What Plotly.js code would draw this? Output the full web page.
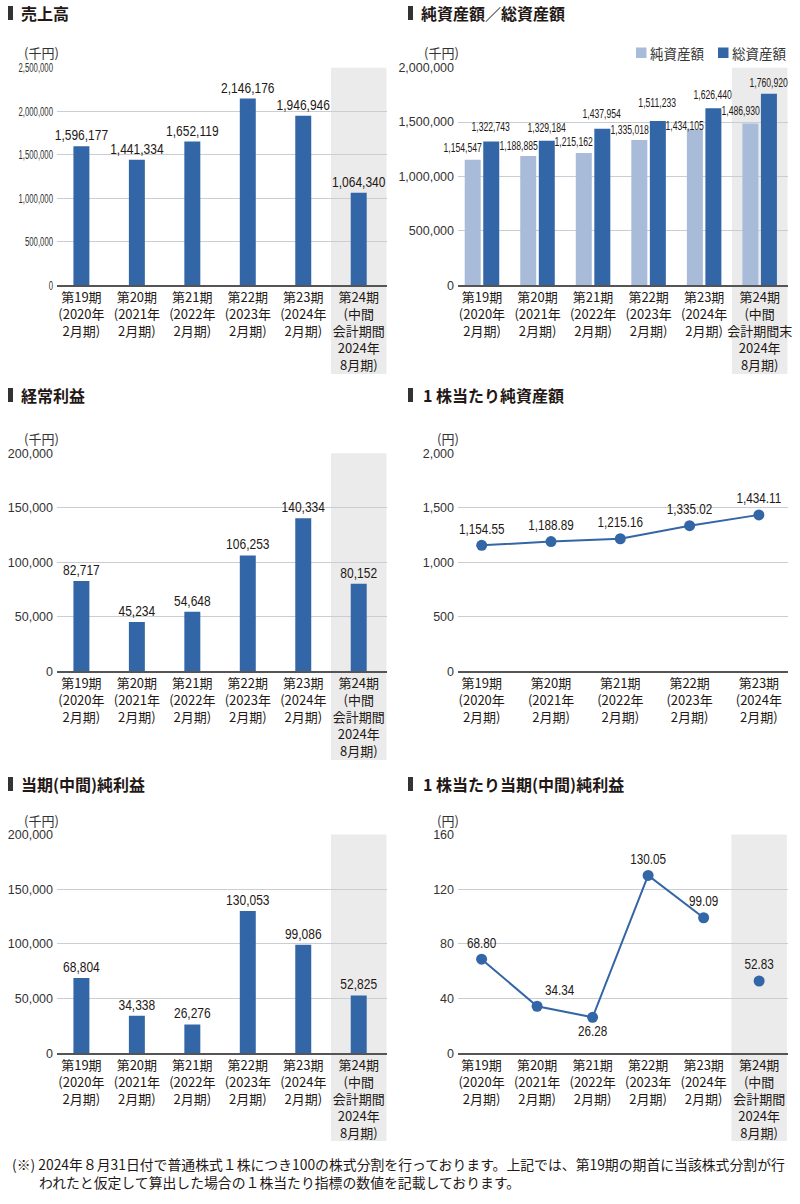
<!DOCTYPE html>
<html>
<head>
<meta charset="utf-8">
<script src="https://cdn.plot.ly/plotly-3.0.1.min.js"></script>
<style>
  html, body { margin: 0; padding: 0; background: #fff; }
  #chart { width: 800px; height: 1204px; }
</style>
</head>
<body>
<div id="chart"></div>
<script>
// ---- data ----
var periods = ['第19期<br>(2020年<br>2月期)', '第20期<br>(2021年<br>2月期)', '第21期<br>(2022年<br>2月期)',
               '第22期<br>(2023年<br>2月期)', '第23期<br>(2024年<br>2月期)', '第24期<br>(中間<br>会計期間<br>2024年<br>8月期)'];
var periodsAssets = ['第19期<br>(2020年<br>2月期)', '第20期<br>(2021年<br>2月期)', '第21期<br>(2022年<br>2月期)',
               '第22期<br>(2023年<br>2月期)', '第23期<br>(2024年<br>2月期)', '第24期<br>(中間<br>会計期間末<br>2024年<br>8月期)'];
var periodsBps = ['第19期<br>(2020年<br>2月期)', '第20期<br>(2021年<br>2月期)', '第21期<br>(2022年<br>2月期)',
               '第22期<br>(2023年<br>2月期)', '第23期<br>(2024年<br>2月期)'];

var sales = [1596177, 1441334, 1652119, 2146176, 1946946, 1064340];
var netAssets = [1154547, 1188885, 1215162, 1335018, 1434105, 1486930];
var totalAssets = [1322743, 1329184, 1437954, 1511233, 1626440, 1760920];
var ordinaryIncome = [82717, 45234, 54648, 106253, 140334, 80152];
var bps = [1154.55, 1188.89, 1215.16, 1335.02, 1434.11];
var netIncome = [68804, 34338, 26276, 130053, 99086, 52825];
var eps = [68.80, 34.34, 26.28, 130.05, 99.09, 52.83];

var titles = ['売上高', '純資産額／総資産額', '経常利益', '1 株当たり純資産額', '当期(中間)純利益', '1 株当たり当期(中間)純利益'];
var units = ['(千円)', '(千円)', '(千円)', '(円)', '(千円)', '(円)'];
var legendNames = ['純資産額', '総資産額'];
var note1 = '(※) 2024年８月31日付で普通株式１株につき100の株式分割を行っております。上記では、第19期の期首に当該株式分割が行';
var note2 = 'われたと仮定して算出した場合の１株当たり指標の数値を記載しております。';

// label placement tweaks (px above the bar top / text position)
var netLabelLift = [3, 1, 2.5, 1, -5.5, 3.5];
var totalLabelLift = [5, 4, 5.5, 9, 4, 2];
var epsTextPos = ['top center', 'top right', 'bottom center', 'top center', 'top center'];

// ---- style ----
var W = 800, H = 1204;
function fx(p) { return p / W; }
function fy(p) { return 1 - p / H; }
var dark = '#3366a6';
var light = '#a8bbd9';
var shade = '#ebebeb';
var gridc = '#c9ced3';
var txt = '#231815';
var numFont = 'Liberation Sans, Arial, sans-serif';
var jpFont = 'Noto Sans CJK JP, sans-serif';

function xAx(d0, d1, r, anchor) {
  return {domain: [fx(d0), fx(d1)], range: r, type: 'category', anchor: anchor,
    showline: true, linecolor: '#555', linewidth: 1.5, showgrid: false, ticks: '', tickangle: 0,
    tickfont: {family: jpFont, size: 13, color: txt}, fixedrange: true};
}
function yAx(top, bot, max, dt, anchor) {
  return {domain: [fy(bot), fy(top)], range: [0, max], dtick: dt, tick0: 0, anchor: anchor,
    tickformat: ',d', showgrid: true, gridcolor: gridc, gridwidth: 1, zeroline: false,
    showline: false, ticks: '', ticklabelstandoff: 3,
    tickfont: {family: numFont, size: 12.5, color: '#333'}, fixedrange: true};
}

var data = [];
function barTrace(x, y, xa, ya) {
  return {type: 'bar', x: x, y: y, xaxis: xa, yaxis: ya, width: 0.288,
    marker: {color: dark}, texttemplate: '%{y:,d}', textposition: 'outside',
    constraintext: 'none', cliponaxis: false,
    textfont: {family: numFont, size: 15, color: txt}, hoverinfo: 'skip', showlegend: false};
}

// 売上高
data.push(barTrace(periods, sales, 'x', 'y'));
// 純資産額／総資産額
data.push({type: 'bar', name: legendNames[0], x: periodsAssets, y: netAssets, xaxis: 'x2', yaxis: 'y2',
  width: 0.288, offset: -0.311, marker: {color: light}, hoverinfo: 'skip', showlegend: false});
data.push({type: 'bar', name: legendNames[1], x: periodsAssets, y: totalAssets, xaxis: 'x2', yaxis: 'y2',
  width: 0.288, offset: 0.0225, marker: {color: dark}, hoverinfo: 'skip', showlegend: false});
// 経常利益
data.push(barTrace(periods, ordinaryIncome, 'x3', 'y3'));
// 1株当たり純資産額
data.push({type: 'scatter', mode: 'lines+markers+text', x: periodsBps, y: bps, xaxis: 'x4', yaxis: 'y4',
  line: {color: dark, width: 2}, marker: {color: dark, size: 11},
  texttemplate: '%{y:,.2f}', textposition: 'top center', cliponaxis: false,
  textfont: {family: numFont, size: 15, color: txt}, hoverinfo: 'skip', showlegend: false});
// 当期純利益
data.push(barTrace(periods, netIncome, 'x5', 'y5'));
// 1株当たり当期純利益
data.push({type: 'scatter', mode: 'lines+markers+text', x: periods.slice(0, 5), y: eps.slice(0, 5),
  xaxis: 'x6', yaxis: 'y6', line: {color: dark, width: 2}, marker: {color: dark, size: 11},
  texttemplate: '%{y:.2f}', textposition: epsTextPos, cliponaxis: false,
  textfont: {family: numFont, size: 15, color: txt}, hoverinfo: 'skip', showlegend: false});
data.push({type: 'scatter', mode: 'markers+text', x: periods.slice(5), y: eps.slice(5),
  xaxis: 'x6', yaxis: 'y6', marker: {color: dark, size: 11},
  texttemplate: '%{y:.2f}', textposition: 'top center', cliponaxis: false,
  textfont: {family: numFont, size: 15, color: txt}, hoverinfo: 'skip', showlegend: false});

// ---- annotations / shapes ----
var annotations = [];
var shapes = [];

var panels = [
  {tx: 19, ty: 13, ux: 22, uy: 53, bx: 8, xref: 'x', top: 67.7, bot: 374, shade: true},
  {tx: 419, ty: 13, ux: 422, uy: 53, bx: 408, xref: 'x2', top: 67.7, bot: 374, shade: true},
  {tx: 19, ty: 395, ux: 22, uy: 439, bx: 8, xref: 'x3', top: 453.2, bot: 760, shade: true},
  {tx: 421, ty: 395, ux: 435, uy: 438, bx: 408, xref: 'x4', top: 453.2, bot: 760, shade: false},
  {tx: 19, ty: 784, ux: 22, uy: 820, bx: 8, xref: 'x5', top: 834.5, bot: 1141, shade: true},
  {tx: 421, ty: 784, ux: 435, uy: 820, bx: 408, xref: 'x6', top: 834.5, bot: 1141, shade: true}
];
panels.forEach(function (p, i) {
  annotations.push({xref: 'paper', yref: 'paper', x: fx(p.tx), y: fy(p.ty), xanchor: 'left', yanchor: 'middle',
    showarrow: false, text: titles[i], font: {family: jpFont, size: 16, weight: 700, color: txt}});
  annotations.push({xref: 'paper', yref: 'paper', x: fx(p.ux), y: fy(p.uy), xanchor: 'left', yanchor: 'middle',
    showarrow: false, text: units[i], font: {family: jpFont, size: 13, color: '#333'}});
  shapes.push({type: 'rect', xref: 'paper', yref: 'paper', x0: fx(p.bx), x1: fx(p.bx + 5),
    y0: fy(p.ty + 7), y1: fy(p.ty - 7), fillcolor: '#333', line: {width: 0}});
  if (p.shade) {
    shapes.push({type: 'rect', layer: 'below', xref: p.xref, yref: 'paper', x0: 4.5, x1: 5.5,
      y0: fy(p.bot), y1: fy(p.top), fillcolor: shade, line: {width: 0}});
  }
});

// labels for grouped bars (remember their index to narrow them later)
var assetLabelIdx = [];
netAssets.forEach(function (v, i) {
  assetLabelIdx.push(annotations.length);
  annotations.push({xref: 'x2', yref: 'y2', x: i, y: v, xshift: -19, yshift: netLabelLift[i], yanchor: 'bottom',
    showarrow: false, text: v.toLocaleString('en-US'), font: {family: numFont, size: 12, color: txt}});
});
totalAssets.forEach(function (v, i) {
  assetLabelIdx.push(annotations.length);
  annotations.push({xref: 'x2', yref: 'y2', x: i, y: v, xshift: 9.25, yshift: totalLabelLift[i], yanchor: 'bottom',
    showarrow: false, text: v.toLocaleString('en-US'), font: {family: numFont, size: 12, color: txt}});
});

// legend of panel 2
[[636, light], [718, dark]].forEach(function (l, i) {
  shapes.push({type: 'rect', xref: 'paper', yref: 'paper', x0: fx(l[0]), x1: fx(l[0] + 10.5),
    y0: fy(58), y1: fy(47.5), fillcolor: l[1], line: {width: 0}});
  annotations.push({xref: 'paper', yref: 'paper', x: fx(l[0] + 12), y: fy(53), xanchor: 'left', yanchor: 'middle',
    showarrow: false, text: legendNames[i], font: {family: jpFont, size: 13.5, color: '#333'}});
});

// footnote
annotations.push({xref: 'paper', yref: 'paper', x: fx(10), y: fy(1164), xanchor: 'left', yanchor: 'middle',
  showarrow: false, text: note1, font: {family: jpFont, size: 13.85, color: txt}});
annotations.push({xref: 'paper', yref: 'paper', x: fx(37), y: fy(1182), xanchor: 'left', yanchor: 'middle',
  showarrow: false, text: note2, font: {family: jpFont, size: 13.85, color: txt}});

var layout = {
  width: W, height: H,
  margin: {l: 0, r: 0, t: 0, b: 0},
  paper_bgcolor: '#fff', plot_bgcolor: 'rgba(0,0,0,0)',
  showlegend: false,
  xaxis: xAx(57, 387, [-0.44, 5.51], 'y'),
  yaxis: yAx(67.7, 285.3, 2500000, 500000, 'x'),
  xaxis2: xAx(458, 788, [-0.432, 5.51], 'y2'),
  yaxis2: yAx(67.7, 285.3, 2000000, 500000, 'x2'),
  xaxis3: xAx(57, 387, [-0.44, 5.51], 'y3'),
  yaxis3: yAx(453.2, 671.2, 200000, 50000, 'x3'),
  xaxis4: xAx(458, 788, [-0.342, 4.42], 'y4'),
  yaxis4: yAx(453.2, 671.2, 2000, 500, 'x4'),
  xaxis5: xAx(57, 387, [-0.44, 5.51], 'y5'),
  yaxis5: yAx(834.5, 1053.2, 200000, 50000, 'x5'),
  xaxis6: xAx(458, 788, [-0.425, 5.52], 'y6'),
  yaxis6: yAx(834.5, 1053.2, 160, 40, 'x6'),
  annotations: annotations,
  shapes: shapes
};

// the printed chart uses a condensed face for its numbers: squeeze them horizontally
function squeeze(nodes, f) {
  nodes.forEach(function (t) {
    var w = t.getComputedTextLength();
    t.setAttribute('textLength', (w * f).toFixed(1));
    t.setAttribute('lengthAdjust', 'spacingAndGlyphs');
  });
}

Plotly.newPlot('chart', data, layout, {staticPlot: true, displayModeBar: false}).then(function (gd) {
  var all = function (sel) { return Array.prototype.slice.call(gd.querySelectorAll(sel)); };
  squeeze(all('.subplot.xy .ytick text'), 0.62);
  squeeze(all('.subplot.x2y2 .ytick text, .subplot.x3y3 .ytick text, .subplot.x4y4 .ytick text, .subplot.x5y5 .ytick text, .subplot.x6y6 .ytick text'), 0.8);
  squeeze(all('text.bartext'), 0.8);
  squeeze(all('.textpoint text'), 0.78);
  assetLabelIdx.forEach(function (k) {
    squeeze(all('.annotation[data-index="' + k + '"] text'), 0.72);
  });
});
</script>
</body>
</html>
